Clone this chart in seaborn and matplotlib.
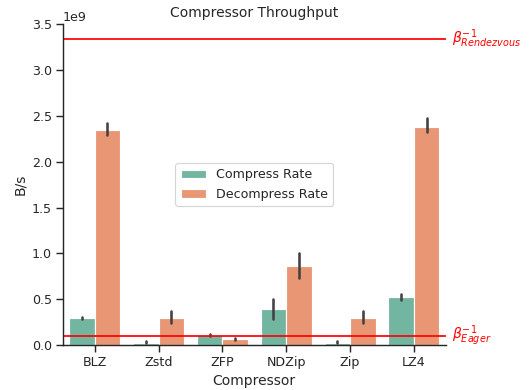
import numpy as np
import pandas as pd
import matplotlib
matplotlib.use("Agg")
import matplotlib.pyplot as plt
import seaborn as sns

compressors = ["BLZ", "Zstd", "ZFP", "NDZip", "Zip", "LZ4"]
metrics = ["Compress Rate", "Decompress Rate"]

# three measured samples per compressor (B/s, in units of 1e9)
compress_samples = {
    "BLZ":   [0.29, 0.30, 0.31],
    "Zstd":  [0.02, 0.025, 0.04],
    "ZFP":   [0.10, 0.10, 0.12],
    "NDZip": [0.29, 0.38, 0.50],
    "Zip":   [0.02, 0.025, 0.04],
    "LZ4":   [0.49, 0.51, 0.56],
}
decompress_samples = {
    "BLZ":   [2.29, 2.34, 2.42],
    "Zstd":  [0.245, 0.275, 0.375],
    "ZFP":   [0.06, 0.067, 0.08],
    "NDZip": [0.735, 0.845, 1.008],
    "Zip":   [0.245, 0.275, 0.375],
    "LZ4":   [2.32, 2.355, 2.475],
}
beta_rendezvous = 3.34e9
beta_eager = 0.105e9

rows = []
for c in compressors:
    for v in compress_samples[c]:
        rows.append({"Compressor": c, "Metric": "Compress Rate", "B/s": v * 1e9})
    for v in decompress_samples[c]:
        rows.append({"Compressor": c, "Metric": "Decompress Rate", "B/s": v * 1e9})
df = pd.DataFrame(rows)

sns.set_theme(context="notebook", style="ticks")
DPI = 83
fig = plt.figure(figsize=(532 / DPI, 390 / DPI), dpi=DPI)
ax = fig.add_axes([0.118, 0.115, 0.72, 0.823])

sns.barplot(data=df, x="Compressor", y="B/s", hue="Metric", order=compressors,
            hue_order=metrics, palette="Set2", errorbar=("pi", 100), ax=ax)

ax.axhline(beta_rendezvous, color="red")
ax.axhline(beta_eager, color="red")
trans = matplotlib.transforms.blended_transform_factory(ax.transAxes, ax.transData)
ax.text(1.015, beta_rendezvous, r"$\beta^{-1}_{Rendezvous}$", color="red",
        transform=trans, va="center", ha="left", fontsize=12)
ax.text(1.015, beta_eager, r"$\beta^{-1}_{Eager}$", color="red",
        transform=trans, va="center", ha="left", fontsize=12)

ax.set_ylim(0, 3.5e9)
ax.set_title("Compressor Throughput")
ax.set_xlabel("Compressor")
ax.set_ylabel("B/s")
ax.legend(loc="center", title=None)
sns.despine(ax=ax)

fig.savefig("out.png", dpi=DPI)
